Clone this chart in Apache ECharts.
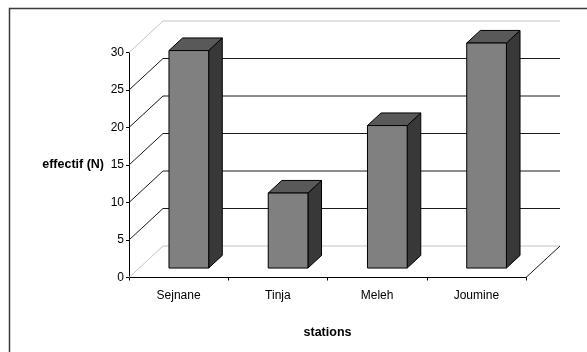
<!DOCTYPE html>
<html>
<head>
<meta charset="utf-8">
<script src="https://cdn.jsdelivr.net/npm/echarts@6/dist/echarts.min.js"></script>
<style>
  html, body { margin: 0; padding: 0; background: #fff; }
  #chart { width: 587px; height: 352px; }
</style>
</head>
<body>
<div id="chart"></div>
<script>
// Stations and counts
const stations = ['Sejnane', 'Tinja', 'Meleh', 'Joumine'];
const effectif = [29, 10, 19, 30];
const yTicks = [0, 5, 10, 15, 20, 25, 30];

// Perspective offset of the back wall relative to the front plane
const DX = 34, DY = -31.5;
// Bars sit between 30% and 70% of the depth
const D0 = 0.3, D1 = 0.7;

const chart = echarts.init(document.getElementById('chart'), null, { renderer: 'canvas' });

function renderWall(params, api) {
  const v = api.value(1);
  const cs = params.coordSys;
  const y = api.coord([0, v])[1];
  const x0 = cs.x, x1 = cs.x + cs.width;
  const edge = (v === yTicks[0] || v === yTicks[yTicks.length - 1]);
  const col = edge ? '#c4c4c4' : '#1a1a1a';
  const children = [
    { type: 'line', shape: { x1: x0, y1: y, x2: x0 + DX, y2: y + DY }, style: { stroke: col, lineWidth: 1 } },
    { type: 'line', shape: { x1: x0 + DX, y1: y + DY, x2: x1 + DX, y2: y + DY }, style: { stroke: col, lineWidth: 1 } }
  ];
  if (v === yTicks[0]) {
    children.push({ type: 'line', shape: { x1: x1, y1: y, x2: x1 + DX, y2: y + DY }, style: { stroke: '#1a1a1a', lineWidth: 1 } });
  }
  return { type: 'group', children: children };
}

function renderBar(params, api) {
  const cat = api.value(0), val = api.value(1);
  const base = api.coord([cat, 0]);
  const top = api.coord([cat, val]);
  const bw = api.size([1, 0])[0] * 0.4;
  const ox = DX * D0, oy = DY * D0;
  const ddx = DX * (D1 - D0), ddy = DY * (D1 - D0);
  const xa = base[0] - bw / 2 + ox, xb = xa + bw;
  const yt = top[1] + oy, yb = base[1] + oy;
  const edge = { stroke: '#000', lineWidth: 1, lineJoin: 'round' };
  return {
    type: 'group',
    children: [
      { type: 'polygon', shape: { points: [[xb, yt], [xb + ddx, yt + ddy], [xb + ddx, yb + ddy], [xb, yb]] },
        style: Object.assign({ fill: '#383838' }, edge) },
      { type: 'polygon', shape: { points: [[xa, yt], [xa + ddx, yt + ddy], [xb + ddx, yt + ddy], [xb, yt]] },
        style: Object.assign({ fill: '#595959' }, edge) },
      { type: 'rect', shape: { x: xa, y: yt, width: bw, height: yb - yt },
        style: Object.assign({ fill: '#808080' }, edge) }
    ]
  };
}

const labelFont = { fontFamily: '"Liberation Sans", Arial, sans-serif', color: '#000' };

chart.setOption({
  backgroundColor: '#ffffff',
  animation: false,
  grid: { left: 129, right: 61, top: 52.5, bottom: 74.5, containLabel: false },
  xAxis: {
    type: 'category',
    data: stations,
    boundaryGap: true,
    axisLine: { show: true, lineStyle: { color: '#000', width: 1 } },
    axisTick: { show: true, length: 3, inside: false, lineStyle: { color: '#000' } },
    axisLabel: Object.assign({ fontSize: 12, margin: 12 }, labelFont),
    splitLine: { show: false },
    name: 'stations',
    nameLocation: 'middle',
    nameGap: 49,
    nameTextStyle: Object.assign({ fontSize: 12.5, fontWeight: 'bold' }, labelFont)
  },
  yAxis: {
    type: 'value',
    min: 0, max: 30, interval: 5,
    axisLine: { show: true, lineStyle: { color: '#000', width: 1 } },
    axisTick: { show: true, length: 3, lineStyle: { color: '#000' } },
    axisLabel: Object.assign({ fontSize: 12, margin: 5 }, labelFont),
    splitLine: { show: false },
    name: 'effectif (N)',
    nameLocation: 'middle',
    nameRotate: 0,
    nameGap: 25,
    nameTextStyle: Object.assign({ fontSize: 12.5, fontWeight: 'bold' }, labelFont)
  },
  graphic: [
    { type: 'rect', left: 7, top: 6, shape: { width: 620, height: 400 },
      style: { fill: 'none', stroke: '#3a3a3a', lineWidth: 1.5 }, z: 100, silent: true }
  ],
  series: [
    {
      type: 'custom',
      name: 'wall',
      renderItem: renderWall,
      data: yTicks.map(v => [0, v]),
      encode: { x: 0, y: 1 },
      z: 1,
      silent: true
    },
    {
      type: 'custom',
      name: 'effectif',
      renderItem: renderBar,
      data: effectif.map((v, i) => [i, v]),
      encode: { x: 0, y: 1 },
      z: 5,
      silent: true
    }
  ]
});
</script>
</body>
</html>
